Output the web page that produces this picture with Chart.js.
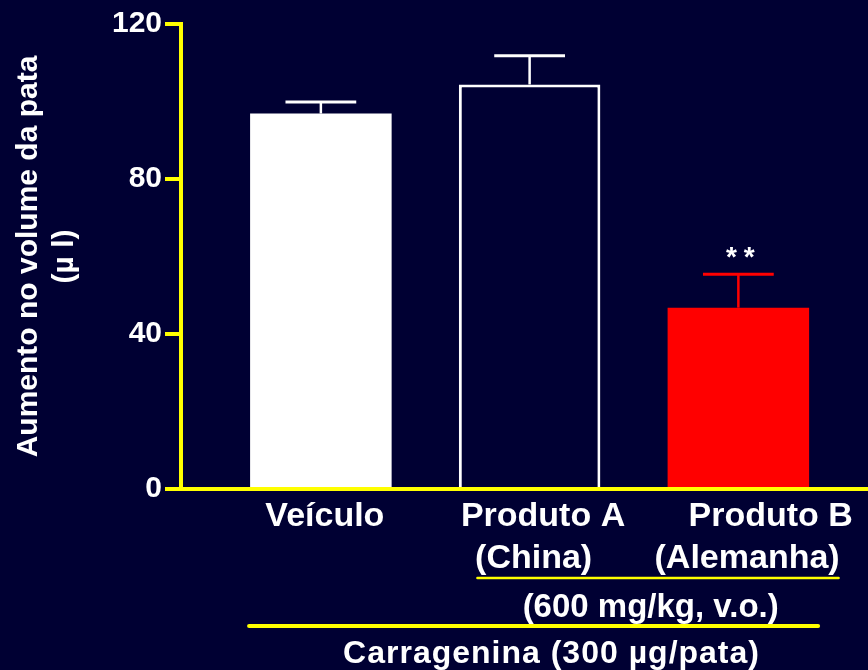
<!DOCTYPE html>
<html>
<head>
<meta charset="utf-8">
<script src="https://cdn.jsdelivr.net/npm/chart.js@4/dist/chart.umd.min.js"></script>
<style>
  html, body { margin: 0; padding: 0; background: #000033; }
  #wrap { width: 868px; height: 670px; }
</style>
</head>
<body>
<div id="wrap"><canvas id="chart" width="868" height="670"></canvas></div>
<script>
// Paw volume increase after carrageenan injection
const categories = ['Veículo', 'Produto A', 'Produto B'];
const subLabels = ['', '(China)', '(Alemanha)'];
const means = [96.9, 104.4, 46.8];
const sems = [3.0, 7.4, 8.6];
const significance = ['', '', '**'];
const yTicks = [0, 40, 80, 120];

const FONT = "'Liberation Sans', Arial, Helvetica, sans-serif";
const NAVY = '#000033';
const YELLOW = '#ffff00';
const WHITE = '#ffffff';
const RED = '#ff0000';

const fills = [WHITE, NAVY, RED];
const borders = [WHITE, WHITE, RED];
const borderWidths = [0, 3, 0];
const errColors = [WHITE, WHITE, RED];

// Leading spaces nudge each label line the way the slide set them
const tickLines = [
  ['Veículo'],
  ['  ' + categories[1], subLabels[1]],
  ['      ' + categories[2], ' ' + subLabels[2]]
];

const points = means.map((v, i) => ({ x: i + 1, y: v }));

const background = {
  id: 'background',
  beforeDraw(chart) {
    const { ctx, width, height } = chart;
    ctx.save();
    ctx.fillStyle = NAVY;
    ctx.fillRect(0, 0, width, height);
    ctx.restore();
  }
};

const errorBars = {
  id: 'errorBars',
  afterDatasetsDraw(chart) {
    const { ctx } = chart;
    const yScale = chart.scales.y;
    const meta = chart.getDatasetMeta(0);
    ctx.save();
    meta.data.forEach((bar, i) => {
      const top = yScale.getPixelForValue(means[i] + sems[i]);
      const half = bar.width / 4;
      ctx.strokeStyle = errColors[i];
      ctx.lineCap = 'butt';
      ctx.lineWidth = 2.5;
      ctx.beginPath();
      ctx.moveTo(bar.x, bar.y);
      ctx.lineTo(bar.x, top);
      ctx.stroke();
      ctx.lineWidth = 3;
      ctx.beginPath();
      ctx.moveTo(bar.x - half, top);
      ctx.lineTo(bar.x + half, top);
      ctx.stroke();
      if (significance[i]) {
        const spacing = 7;
        ctx.font = 'bold 28px ' + FONT;
        ctx.letterSpacing = spacing + 'px';
        ctx.fillStyle = WHITE;
        ctx.textAlign = 'center';
        ctx.textBaseline = 'middle';
        ctx.fillText(significance[i], bar.x + spacing / 2 + 2, top - 16);
        ctx.letterSpacing = '0px';
      }
    });
    ctx.restore();
  }
};

const treatmentNotes = {
  id: 'treatmentNotes',
  afterDraw(chart) {
    const { ctx, chartArea } = chart;
    const x = chart.scales.x;
    const base = chartArea.bottom;
    ctx.save();
    ctx.strokeStyle = YELLOW;
    ctx.lineCap = 'round';

    // dose bracket under both products
    ctx.lineWidth = 2.5;
    ctx.beginPath();
    ctx.moveTo(x.getPixelForValue(1.75), base + 89);
    ctx.lineTo(x.getPixelForValue(3.48), base + 89);
    ctx.stroke();

    ctx.fillStyle = WHITE;
    ctx.textAlign = 'center';
    ctx.textBaseline = 'alphabetic';
    ctx.font = 'bold 33px ' + FONT;
    ctx.fillText('(600 mg/kg, v.o.)', x.getPixelForValue(2.58), base + 128);

    // carrageenan bracket under all groups
    ctx.lineWidth = 4;
    ctx.beginPath();
    ctx.moveTo(x.getPixelForValue(0.656), base + 137);
    ctx.lineTo(x.getPixelForValue(3.382), base + 137);
    ctx.stroke();

    ctx.font = 'bold 32px ' + FONT;
    ctx.letterSpacing = '1px';
    ctx.fillText('Carragenina (300 \u00b5g/pata)', x.getPixelForValue(2.105), base + 174);
    ctx.restore();
  }
};

new Chart(document.getElementById('chart'), {
  type: 'bar',
  data: {
    datasets: [{
      data: points,
      backgroundColor: fills,
      borderColor: borders,
      borderWidth: borderWidths,
      borderSkipped: 'start',
      barPercentage: 0.678,
      categoryPercentage: 1
    }]
  },
  options: {
    responsive: false,
    animation: false,
    devicePixelRatio: 1,
    layout: { padding: { top: 24, left: 0, right: 0, bottom: 0 } },
    plugins: {
      legend: { display: false },
      tooltip: { enabled: false }
    },
    scales: {
      x: {
        type: 'linear',
        offset: false,
        min: 0.33,
        max: 3.621,
        grid: { display: false, drawTicks: false },
        border: { display: true, color: YELLOW, width: 4 },
        afterFit(scale) { scale.height = 181; },
        afterBuildTicks(scale) {
          scale.ticks = categories.map((_, i) => ({ value: i + 1 }));
        },
        ticks: {
          autoSkip: false,
          maxRotation: 0,
          minRotation: 0,
          padding: 6,
          labelOffset: 4,
          color: WHITE,
          font: { family: FONT, size: 34, weight: 'bold', lineHeight: 1.25 },
          callback: (value) => tickLines[value - 1] || ''
        }
      },
      y: {
        min: 0,
        max: 120,
        afterFit(scale) { scale.width = 181; },
        afterBuildTicks(scale) {
          scale.ticks = yTicks.map(v => ({ value: v }));
        },
        grid: {
          display: true,
          drawOnChartArea: false,
          drawTicks: true,
          tickLength: 16,
          color: YELLOW,
          lineWidth: 4
        },
        border: { display: true, color: YELLOW, width: 4 },
        ticks: {
          padding: 3,
          color: WHITE,
          font: { family: FONT, size: 30, weight: 'bold' }
        },
        title: {
          display: true,
          text: ['Aumento no volume da pata', '(\u00b5 l)'],
          color: WHITE,
          padding: { top: 10, bottom: 0 },
          font: { family: FONT, size: 30, weight: 'bold', lineHeight: 1.22 }
        }
      }
    }
  },
  plugins: [background, errorBars, treatmentNotes]
});
</script>
</body>
</html>
